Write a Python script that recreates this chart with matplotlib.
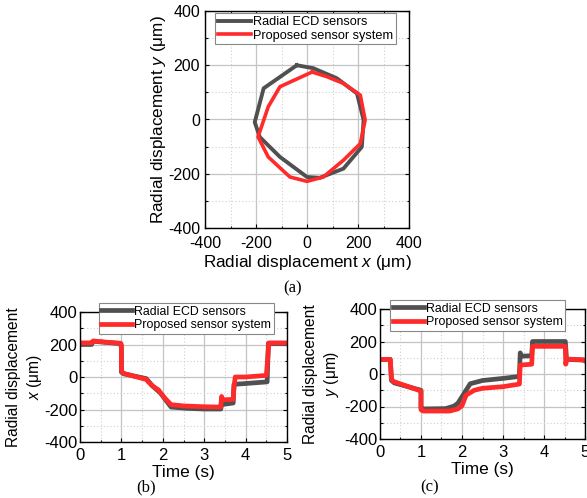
import matplotlib
matplotlib.use("Agg")
import matplotlib.pyplot as plt
from matplotlib.ticker import MultipleLocator, AutoMinorLocator

plt.rcParams['font.family'] = ['Liberation Sans', 'DejaVu Sans']
plt.rcParams['mathtext.fontset'] = 'custom'
plt.rcParams['mathtext.it'] = 'Liberation Sans:italic'
plt.rcParams['mathtext.rm'] = 'Liberation Sans'
plt.rcParams['axes.unicode_minus'] = False

# ---- (a) orbit: x-y radial displacement (um) ----
ecd_orbit_x = [-40, -170, -205, -185, -106, 0, 50, 143, 215, 222, 196, 117, 25, -40]
ecd_orbit_y = [200, 115, -10, -65, -138, -212, -215, -181, -101, -2, 96, 152, 189, 200]
prop_orbit_x = [20, -106, -152, -192, -152, -67, 0, 64, 143, 209, 228, 209, 143, 78, 20]
prop_orbit_y = [175, 121, 47, -64, -138, -212, -228, -212, -150, -89, -2, 90, 133, 158, 175]

# ---- (b) x displacement vs time ----
ecd_tx = [0, 0.28, 0.32, 0.98, 1.0, 1.0, 1.05, 1.6, 1.75, 1.95, 2.05, 2.2, 2.6, 3.0, 3.4,
          3.42, 3.7, 3.72, 4.0, 4.52, 4.55, 5.0]
ecd_x = [200, 200, 220, 205, 180, 30, 20, -10, -55, -100, -135, -185, -193, -197, -197,
         -170, -160, -45, -40, -30, 205, 205]
prop_tx = [0, 0.28, 0.32, 0.6, 0.98, 1.0, 1.0, 1.02, 1.06, 1.3, 1.6, 1.65, 1.75, 1.9, 1.95,
           2.05, 2.2, 2.5, 3.0, 3.38, 3.4, 3.42, 3.45, 3.7, 3.72, 3.75, 4.0, 4.5, 4.53, 4.56, 5.0]
prop_x = [210, 210, 222, 215, 208, 200, 40, 30, 22, 5, -15, -30, -55, -80, -100,
          -130, -170, -178, -183, -185, -185, -120, -140, -138, -60, 0, 0, 10, 100, 210, 210]

# ---- (c) y displacement vs time ----
ecd_ty = [0, 0.25, 0.28, 0.35, 1.0, 1.0, 1.05, 1.6, 1.8, 1.9, 2.1, 2.2, 2.5, 3.0, 3.4,
          3.42, 3.45, 3.7, 3.72, 4.52, 4.55, 5.0]
ecd_y = [90, 90, -40, -55, -100, -210, -215, -213, -198, -180, -100, -60, -40, -27, -15,
         130, 110, 112, 200, 200, 90, 85]
prop_ty = [0, 0.25, 0.28, 0.32, 1.0, 1.0, 1.05, 1.7, 1.9, 2.0, 2.1, 2.3, 2.5, 3.0, 3.4,
           3.42, 3.7, 3.72, 4.52, 4.53, 4.56, 4.95, 5.0]
prop_y = [90, 90, -30, -45, -105, -220, -228, -228, -215, -195, -130, -100, -88, -78, -62,
          55, 60, 170, 170, 60, 92, 88, 80]

series_labels = ["Radial ECD sensors", "Proposed sensor system"]
gray = "#505050"
red = "#ff2a2a"

fig = plt.figure(figsize=(5.87, 4.98), dpi=100)


def style_axes(ax, major_x, major_y, tick_size, xpad, ypad):
    ax.xaxis.set_major_locator(MultipleLocator(major_x))
    ax.yaxis.set_major_locator(MultipleLocator(major_y))
    ax.xaxis.set_minor_locator(AutoMinorLocator(2))
    ax.yaxis.set_minor_locator(AutoMinorLocator(2))
    ax.grid(which='major', color='#c4c4c4', lw=0.9, ls='-')
    ax.grid(which='minor', color='#d0d0d0', lw=0.8, ls=(0, (1, 2)))
    ax.set_axisbelow(True)
    ax.tick_params(which='both', direction='in', top=True, right=True,
                   labelsize=tick_size, width=0.8)
    ax.tick_params(axis='x', which='both', pad=xpad)
    ax.tick_params(axis='y', which='both', pad=ypad)
    ax.tick_params(which='major', length=3)
    ax.tick_params(which='minor', length=1.8)
    for s in ax.spines.values():
        s.set_linewidth(1.0)


def add_legend(ax, anchor, size, hlen):
    leg = ax.legend(loc='upper left', bbox_to_anchor=anchor, fontsize=size,
                    handlelength=hlen, handletextpad=0.15, borderpad=0.22, labelspacing=0.12,
                    borderaxespad=0, fancybox=False, framealpha=1, edgecolor='#888888')
    leg.get_frame().set_linewidth(0.8)
    return leg


# (a)
ax_a = fig.add_axes([205 / 587, 1 - 228 / 498, 204 / 587, 217 / 498])
ax_a.plot(ecd_orbit_x, ecd_orbit_y, color=gray, lw=2.8, label=series_labels[0])
ax_a.plot(prop_orbit_x, prop_orbit_y, color=red, lw=2.6, label=series_labels[1])
ax_a.set_xlim(-400, 400)
ax_a.set_ylim(-400, 400)
style_axes(ax_a, 200, 200, 11.5, 5.5, 3.5)
ax_a.set_xlabel(r"Radial displacement $\mathit{x}$ (μm)", fontsize=12.3, labelpad=2)
ax_a.set_ylabel(r"Radial displacement $\mathit{y}$ (μm)", fontsize=12.3, labelpad=0)
add_legend(ax_a, (0.05, 0.99), 9.2, 2.6)

# (b)
ax_b = fig.add_axes([80 / 587, 1 - 442 / 498, 207 / 587, 130 / 498])
ax_b.plot(ecd_tx, ecd_x, color=gray, lw=3.4, label=series_labels[0])
ax_b.plot(prop_tx, prop_x, color=red, lw=3.4, label=series_labels[1])
ax_b.set_xlim(0, 5)
ax_b.set_ylim(-400, 400)
style_axes(ax_b, 1, 200, 12, 4, 2)
ax_b.set_xlabel("Time (s)", fontsize=12.4, labelpad=2)
ax_b.set_ylabel("Radial displacement\n" + r"$\mathit{x}$ (μm)", fontsize=11.2,
                labelpad=0, linespacing=1.3)
add_legend(ax_b, (0.09, 1.07), 8.9, 2.5)

# (c)
ax_c = fig.add_axes([380 / 587, 1 - 439 / 498, 205 / 587, 130 / 498])
ax_c.plot(ecd_ty, ecd_y, color=gray, lw=3.4, label=series_labels[0])
ax_c.plot(prop_ty, prop_y, color=red, lw=3.4, label=series_labels[1])
ax_c.set_xlim(0, 5)
ax_c.set_ylim(-400, 400)
style_axes(ax_c, 1, 200, 12, 4, 2)
ax_c.set_xlabel("Time (s)", fontsize=12.4, labelpad=2)
ax_c.set_ylabel("Radial displacement\n" + r"$\mathit{y}$ (μm)", fontsize=11.2,
                labelpad=2, linespacing=1.3)
add_legend(ax_c, (0.05, 1.07), 8.9, 2.5)

# panel captions
cap_font = dict(family='Liberation Serif', fontsize=12, ha='center', va='center')
fig.text(293 / 587, 1 - 288 / 498, "(a)", **cap_font)
fig.text(146 / 587, 1 - 487 / 498, "(b)", **cap_font)
fig.text(430 / 587, 1 - 487 / 498, "(c)", **cap_font)

fig.savefig("out.png", dpi=100)
